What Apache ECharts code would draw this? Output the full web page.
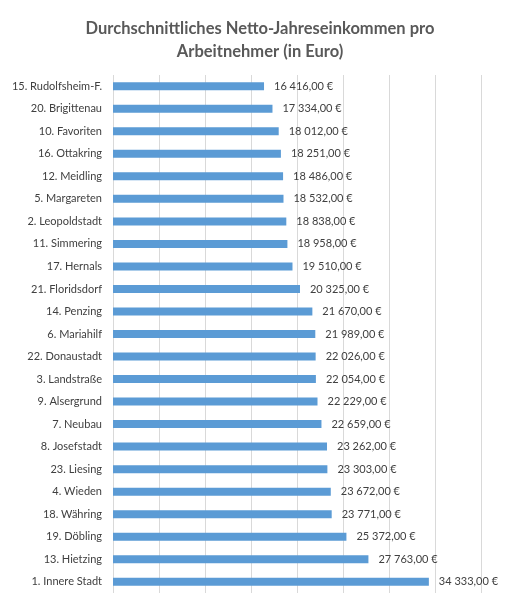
<!DOCTYPE html>
<html>
<head>
<meta charset="utf-8">
<script src="https://cdn.jsdelivr.net/npm/echarts@6/dist/echarts.min.js"></script>
<style>
  html, body { margin: 0; padding: 0; background: #fff; }
  #chart { width: 520px; height: 600px; }
</style>
</head>
<body>
<div id="chart"></div>
<script>
// districts, top to bottom
const districts = [
  '15. Rudolfsheim-F.', '20. Brigittenau', '10. Favoriten', '16. Ottakring',
  '12. Meidling', '5. Margareten', '2. Leopoldstadt', '11. Simmering',
  '17. Hernals', '21. Floridsdorf', '14. Penzing', '6. Mariahilf',
  '22. Donaustadt', '3. Landstraße', '9. Alsergrund', '7. Neubau',
  '8. Josefstadt', '23. Liesing', '4. Wieden', '18. Währing',
  '19. Döbling', '13. Hietzing', '1. Innere Stadt'
];
const income = [
  16416, 17334, 18012, 18251,
  18486, 18532, 18838, 18958,
  19510, 20325, 21670, 21989,
  22026, 22054, 22229, 22659,
  23262, 23303, 23672, 23771,
  25372, 27763, 34333
];

const fmtEuro = (v) => {
  const s = String(Math.round(v)).replace(/\B(?=(\d{3})+(?!\d))/g, ' ');
  return s + ',00 €';
};

const myChart = echarts.init(document.getElementById('chart'));
const option = {
  animation: false,
  title: {
    text: 'Durchschnittliches Netto-Jahreseinkommen pro\nArbeitnehmer (in Euro)',
    left: 'center',
    top: 12,
    textStyle: {
      fontFamily: 'Lato',
      fontSize: 16.5,
      fontWeight: 'bold',
      color: '#595959',
      lineHeight: 23
    }
  },
  grid: { left: 113, right: 39, top: 75, bottom: 7, containLabel: false },
  xAxis: {
    type: 'value',
    min: 0,
    max: 40000,
    interval: 5000,
    axisLabel: { show: false },
    axisLine: { show: false },
    axisTick: { show: false },
    splitLine: { lineStyle: { color: '#d9d9d9', width: 1 } }
  },
  yAxis: {
    type: 'category',
    inverse: true,
    data: districts,
    axisLine: { show: false },
    axisTick: { show: false },
    axisLabel: {
      fontFamily: 'Lato',
      fontSize: 11,
      color: '#404040',
      margin: 11
    }
  },
  series: [
    {
      type: 'bar',
      data: income,
      barWidth: 8,
      itemStyle: { color: '#5b9bd5' },
      label: {
        show: true,
        position: 'right',
        distance: 10,
        fontFamily: 'Lato',
        fontSize: 11,
        color: '#404040',
        formatter: (p) => fmtEuro(p.value)
      }
    }
  ]
};
option && myChart.setOption(option);
</script>
</body>
</html>
